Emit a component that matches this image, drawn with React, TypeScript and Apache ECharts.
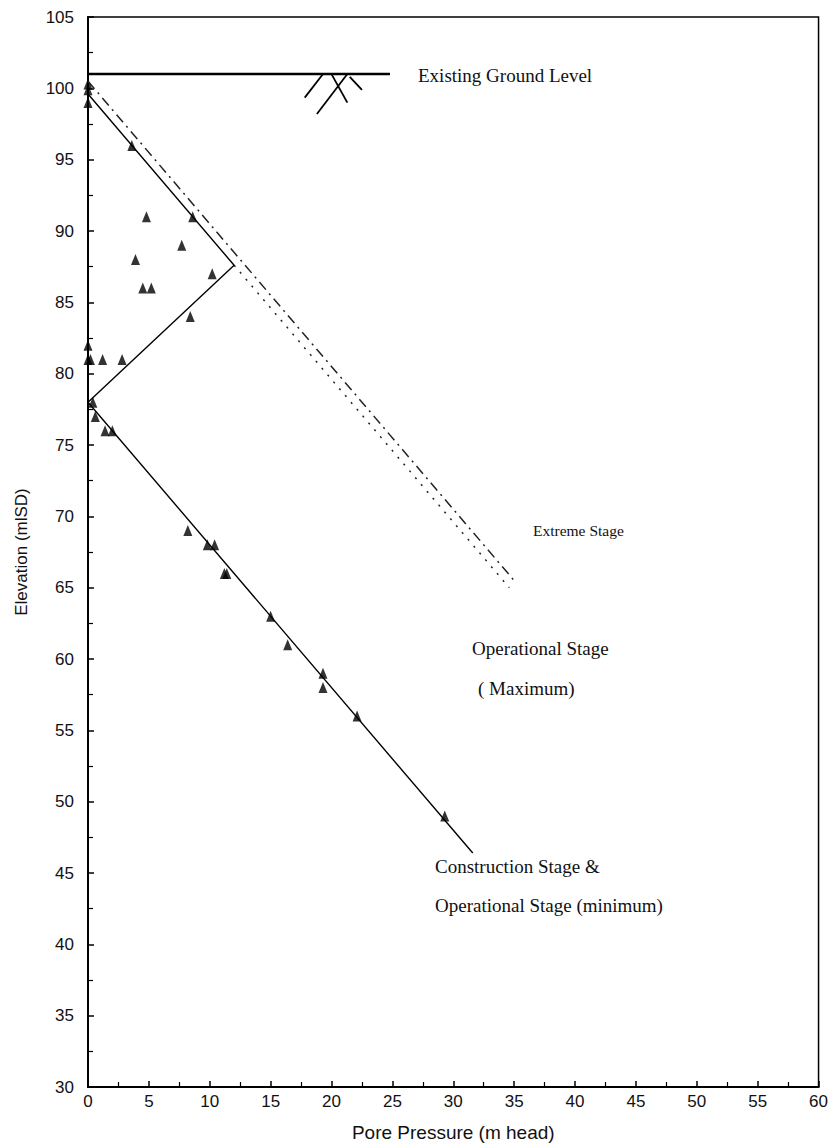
import React, { useEffect, useRef } from "react";
import * as echarts from "echarts";

// Piezometer readings: pore pressure (m head) vs tip elevation (mPD)
const piezoPressure = [0, 0, 0, 3.6, 4.8, 8.6, 7.7, 3.9, 4.5, 5.2, 10.2, 8.4, 0, 0, 0.2, 1.2, 2.8, 0.4, 0.6, 1.4, 2.0, 8.2, 9.8, 10.4, 11.2, 11.4, 15.0, 16.4, 19.3, 19.3, 22.1, 29.3];
const piezoElevation = [100.3, 99.9, 99, 96, 91, 91, 89, 88, 86, 86, 87, 84, 82, 81, 81, 81, 81, 78, 77, 76, 76, 69, 68, 68, 66, 66, 63, 61, 59, 58, 56, 49];

// Construction stage & operational stage (minimum) profile
const minProfileU = [0, 12, 0, 31.6];
const minProfileZ = [99.6, 87.6, 78, 46.4];

// Operational stage (maximum) continuation below the kink
const maxProfileU = [12, 34.6];
const maxProfileZ = [87.6, 65];

// Extreme stage profile
const extremeU = [0, 35];
const extremeZ = [100.5, 65.5];

// Existing ground level
const groundU = [0, 24.8];
const groundZ = [101, 101];

// Ground surface hatch strokes [u1, z1, u2, z2]
const hatchStrokes = [
  [17.8, 99.35, 19.3, 101],
  [18.8, 98.2, 21.3, 101],
  [20.0, 101, 21.3, 99.0],
  [21.5, 100.8, 22.5, 99.9],
];

const xTicks = { min: 0, max: 60, step: 5 };
const yTicks = { min: 30, max: 105, step: 5 };

const pairs = (a: number[], b: number[]) => a.map((v, i) => [v, b[i]]);

const serif = "'Liberation Serif', 'Times New Roman', serif";
const sans = "'Liberation Sans', Arial, sans-serif";

export default function App() {
  const ref = useRef<HTMLDivElement>(null);

  useEffect(() => {
    document.body.style.margin = "0";
    const chart = echarts.init(ref.current!, null, { renderer: "svg" });

    const annotation = (text: string, left: number, y: number, size: number) => ({
      type: "text",
      left,
      top: y - size / 2 - 1,
      style: { text, fill: "#111", font: `${size}px ${serif}` },
    });

    chart.setOption({
      animation: false,
      backgroundColor: "#fff",
      grid: {
        left: 88,
        right: 10,
        top: 17,
        bottom: 58,
        show: true,
        borderColor: "#000",
        borderWidth: 1.5,
        backgroundColor: "transparent",
      },
      xAxis: {
        type: "value",
        min: xTicks.min,
        max: xTicks.max,
        interval: xTicks.step,
        name: "Pore Pressure (m head)",
        nameLocation: "middle",
        nameGap: 36,
        nameTextStyle: { color: "#111", fontSize: 19, fontFamily: sans },
        axisLine: { show: true, lineStyle: { color: "#000", width: 2 } },
        axisTick: { show: true, inside: true, length: 6, lineStyle: { color: "#000", width: 1.5 } },
        minorTick: { show: true, splitNumber: 2, length: 5, lineStyle: { color: "#000", width: 1.2 } },
        axisLabel: { color: "#111", fontSize: 17, fontFamily: sans, margin: 6 },
        splitLine: { show: false },
      },
      yAxis: {
        type: "value",
        min: yTicks.min,
        max: yTicks.max,
        interval: yTicks.step,
        name: "Elevation (mlSD)",
        nameLocation: "middle",
        nameGap: 58,
        nameTextStyle: { color: "#111", fontSize: 17, fontFamily: sans },
        axisLine: { show: true, lineStyle: { color: "#000", width: 2 } },
        axisTick: { show: true, inside: true, length: 6, lineStyle: { color: "#000", width: 1.5 } },
        minorTick: { show: true, splitNumber: 2, length: 5, lineStyle: { color: "#000", width: 1.2 } },
        axisLabel: { color: "#111", fontSize: 17, fontFamily: sans, margin: 14 },
        splitLine: { show: false },
      },
      series: [
        {
          name: "Existing Ground Level",
          type: "line",
          data: pairs(groundU, groundZ),
          symbol: "none",
          lineStyle: { color: "#000", width: 2.5 },
        },
        {
          name: "Ground hatch",
          type: "lines",
          coordinateSystem: "cartesian2d",
          data: hatchStrokes.map(([a, b, c, d]) => ({ coords: [[a, b], [c, d]] })),
          lineStyle: { color: "#000", width: 1.8, opacity: 1 },
        },
        {
          name: "Extreme Stage",
          type: "line",
          data: pairs(extremeU, extremeZ),
          symbol: "none",
          lineStyle: { color: "#222", width: 1.5, type: [10, 5, 2, 5] },
        },
        {
          name: "Operational Stage (Maximum)",
          type: "line",
          data: pairs(maxProfileU, maxProfileZ),
          symbol: "none",
          lineStyle: { color: "#222", width: 1.5, type: [2, 7] },
        },
        {
          name: "Construction Stage & Operational Stage (minimum)",
          type: "line",
          data: pairs(minProfileU, minProfileZ),
          symbol: "none",
          lineStyle: { color: "#000", width: 1.4 },
        },
        {
          name: "Piezometer",
          type: "scatter",
          data: pairs(piezoPressure, piezoElevation),
          symbol: "triangle",
          symbolSize: [9, 11],
          itemStyle: { color: "#000" },
        },
      ],
      graphic: [
        annotation("Existing Ground Level", 418, 76, 19),
        annotation("Extreme Stage", 533, 531, 15.5),
        annotation("Operational Stage", 472, 649, 19),
        annotation("( Maximum)", 478, 689, 19),
        annotation("Construction Stage &", 435, 867, 19),
        annotation("Operational Stage (minimum)", 435, 906, 19),
      ],
    });

    return () => chart.dispose();
  }, []);

  return (
    <div
      ref={ref}
      style={{ position: "absolute", left: 0, top: 0, width: 831, height: 1147, background: "#fff" }}
    />
  );
}
